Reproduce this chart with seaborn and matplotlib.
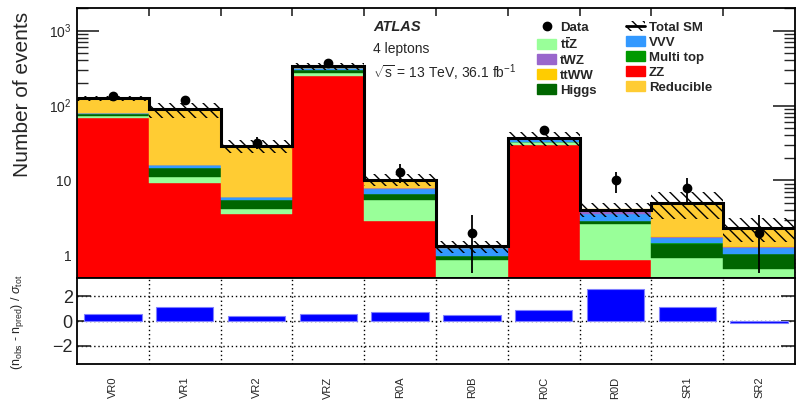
import numpy as np
import pandas as pd
import matplotlib
matplotlib.use("Agg")
import matplotlib.pyplot as plt
import seaborn as sns
from matplotlib.patches import Patch
from matplotlib.lines import Line2D
from matplotlib.ticker import LogLocator, NullFormatter

sns.set_style("ticks")
plt.rcParams['font.family'] = ['Liberation Sans', 'DejaVu Sans']
plt.rcParams['mathtext.fontset'] = 'custom'
plt.rcParams['mathtext.rm'] = 'Liberation Sans'
plt.rcParams['mathtext.it'] = 'Liberation Sans:italic'
plt.rcParams['mathtext.bf'] = 'Liberation Sans:bold'
plt.rcParams['hatch.linewidth'] = 1.0
plt.rcParams['hatch.color'] = 'black'

# ---------------- data ----------------
regions = ['VR0', 'VR1', 'VR2', 'VRZ', 'R0A', 'R0B', 'R0C', 'R0D', 'SR1', 'SR2']
zz        = [68.5, 9.2, 3.6, 251, 2.87, 0.05, 29.3, 0.88, 0.05, 0.05]
ttz       = [3.0, 1.9, 0.54, 20, 2.66, 0.81, 3.2, 1.76, 0.87, 0.61]
higgs     = [6.5, 3.4, 1.33, 27, 1.11, 0.11, 0.3, 0.23, 0.51, 0.37]
multitop  = [0.2, 0.1, 0.05, 1.0, 0.05, 0.01, 0.2, 0.02, 0.02, 0.02]
vvv       = [2.0, 1.3, 0.43, 20, 1.1, 0.26, 3.0, 0.65, 0.24, 0.2]
twz       = [0.3, 0.1, 0.05, 2.0, 0.1, 0.03, 0.3, 0.46, 0.08, 0.06]
ttww      = [0.1, 0.05, 0.02, 0.5, 0.05, 0.01, 0.1, 0.02, 0.02, 0.02]
reducible = [45, 72.5, 22.7, 13, 2.3, 0.05, 0.6, 0.08, 3.24, 0.98]
sm_unc    = [10, 21, 5.5, 35, 1.8, 0.25, 8, 0.85, 2.0, 0.8]
data      = [135, 117, 32, 368, 13, 2, 47, 10, 8, 2]
pulls     = [0.56, 1.17, 0.44, 0.56, 0.70, 0.47, 0.92, 2.64, 1.11, -0.19]

colors = {
    'ZZ': '#FF0000', 'ttZ': '#99FF99', 'Higgs': '#006600', 'Multi top': '#009900',
    'VVV': '#3399FF', 'tWZ': '#9966CC', 'ttWW': '#FFCC00', 'Reducible': '#FFCC33',
}
stack = [('ZZ', zz), ('ttZ', ttz), ('Higgs', higgs), ('Multi top', multitop),
         ('VVV', vvv), ('tWZ', twz), ('ttWW', ttww), ('Reducible', reducible)]

HATCH = '\\\\\\'

W, H = 796, 401
fig = plt.figure(figsize=(W / 100, H / 100), dpi=100)
ax = fig.add_axes([77 / W, 1 - 278 / H, 718 / W, 270 / H])
ax2 = fig.add_axes([77 / W, 1 - 364 / H, 718 / W, 86 / H])

x = np.arange(len(regions))
edges = np.arange(len(regions) + 1) - 0.5

base = np.full(len(regions), 1e-3)
for name, vals in stack:
    vals = np.asarray(vals, float)
    ax.bar(x, vals, width=1.0, bottom=base, color=colors[name],
           edgecolor=colors[name], linewidth=0.3, zorder=1)
    base = base + vals
total = base - 1e-3
unc = np.asarray(sm_unc, float)

ax.stairs(total + unc, edges, baseline=total - unc, fill=True, hatch=HATCH,
          facecolor='none', edgecolor='black', linewidth=0, zorder=2)
ax.stairs(total, edges, baseline=None, color='black', linewidth=2.2, zorder=3)

d = np.asarray(data, float)
ax.errorbar(x, d, yerr=np.sqrt(d), fmt='o', color='black', ms=6,
            elinewidth=1.3, capsize=0, zorder=4)

ax.set_yscale('log')
ax.set_ylim(0.5, 2000)
ax.set_xlim(-0.5, 9.5)
ax.set_yticks([1, 10, 100, 1000])
ax.set_yticklabels(['1', '10', r'$10^{2}$', r'$10^{3}$'])
ax.yaxis.set_minor_locator(LogLocator(base=10, subs=np.arange(2, 10)))
ax.yaxis.set_minor_formatter(NullFormatter())
ax.tick_params(axis='y', which='major', direction='in', length=16, width=1.2,
               left=True, right=True, labelsize=10, pad=4)
ax.tick_params(axis='y', which='minor', direction='in', length=8, width=1.0,
               left=True, right=True)
ax.set_xticks(edges[1:-1])
ax.tick_params(axis='x', which='major', direction='in', length=6, width=1.2,
               top=True, bottom=True, labelbottom=False)
for s in ax.spines.values():
    s.set_linewidth(1.3)
    s.set_color('black')

# legend
h_data = Line2D([], [], marker='o', color='black', ls='none', ms=6)
h_tot = (Patch(facecolor='none', edgecolor='black', hatch=HATCH, linewidth=0),
         Line2D([], [], color='black', lw=2))
def P(n):
    return Patch(facecolor=colors[n], edgecolor=colors[n])
handles = [h_data, P('ttZ'), P('tWZ'), P('ttWW'), P('Higgs'),
           h_tot, P('VVV'), P('Multi top'), P('ZZ'), P('Reducible')]
labels = ['Data', r'$\mathbf{t\bar{t}Z}$', 'tWZ', 'ttWW', 'Higgs',
          'Total SM', 'VVV', 'Multi top', 'ZZ', 'Reducible']
fig.legend(handles, labels, ncol=2, loc='upper left',
           bbox_to_anchor=(537 / W, 1 - 21 / H), bbox_transform=fig.transFigure,
           frameon=False, prop={'weight': 'bold', 'size': 9.5},
           handlelength=1.45, handleheight=0.8, handletextpad=0.3,
           columnspacing=2.23, labelspacing=0.18, borderpad=0, borderaxespad=0)

fig.text(373 / W, 1 - 27 / H, 'ATLAS', fontsize=10.5, fontweight='bold',
         fontstyle='italic', va='center', ha='left')
fig.text(373 / W, 1 - 49 / H, '4 leptons', fontsize=10, va='center', ha='left')
fig.text(373 / W, 1 - 73 / H, r'$\sqrt{\mathrm{s}}$ = 13 TeV, 36.1 fb$^{-1}$',
         fontsize=10, va='center', ha='left')

fig.text(23 / W, 1 - 94 / H, 'Number of events', fontsize=15, rotation=90,
         va='center', ha='center')

# pull panel
df = pd.DataFrame({'region': regions, 'pull': pulls})
sns.barplot(data=df, x='region', y='pull', ax=ax2, color='#0000FF', width=0.8,
            saturation=1, edgecolor='#8080FF', linewidth=0.8, zorder=3)
ax2.set_xlim(-0.5, 9.5)
ax2.set_ylim(-3.5, 3.5)
ax2.set_yticks([-2, 0, 2])
ax2.set_yticklabels(['\u22122', '0', '2'])
ax2.set_xticks(edges[1:-1], minor=True)
ax2.grid(which='minor', axis='x', ls=(0, (1, 2)), color='black', lw=1.0)
ax2.grid(which='major', axis='y', ls=(0, (1, 2)), color='black', lw=1.0)
ax2.grid(which='major', axis='x', visible=False)
ax2.set_axisbelow(True)
ax2.tick_params(axis='y', which='major', direction='in', length=10, width=1.2,
                left=True, right=True, labelsize=13, pad=3)
ax2.tick_params(axis='x', which='both', length=0, labelrotation=90,
                labelsize=8, pad=9)
ax2.set_xlabel('')
ax2.set_ylabel('')
for s in ax2.spines.values():
    s.set_linewidth(1.3)
    s.set_color('black')

fig.text(18 / W, 1 - 322 / H,
         r'(n$_{\mathrm{obs}}$ - n$_{\mathrm{pred}}$) / $\sigma_{\mathrm{tot}}$',
         fontsize=9, rotation=90, va='center', ha='center')

fig.savefig('out.png', dpi=100)
